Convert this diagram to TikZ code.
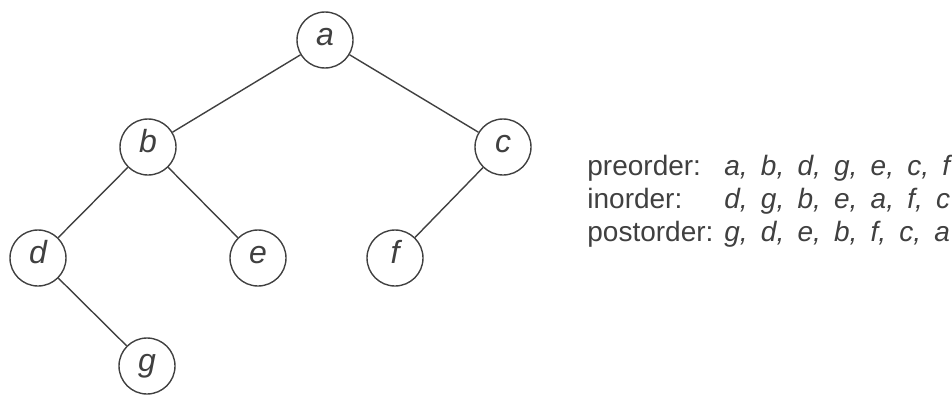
\documentclass[tikz,border=0pt]{standalone}
\usepackage{fontspec}
\setmainfont{Liberation Sans}
\newfontfamily\seqfont[WordSpace=1.7]{Liberation Sans}

\begin{document}
\begin{tikzpicture}[x=0.5pt, y=-0.5pt,
  vert/.style={draw=black!75, circle, minimum size=28pt, inner sep=0pt,
               line width=0.7pt, text=black!75, text height=0.72em, text depth=0.2em,
               font=\fontsize{16}{19}\selectfont\itshape},
  link/.style={draw=black!75, line width=0.7pt},
  order/.style={anchor=base west, inner sep=0pt, text=black!75, font=\fontsize{14}{17}\selectfont},
  seq/.style={order, font=\fontsize{14}{17}\seqfont\itshape},
]
  \useasboundingbox (0,0) rectangle (952,396);
  % the tree
  \node[vert] (a) at (325,40) {a};
  \node[vert] (b) at (148,147) {b};
  \node[vert] (c) at (503,147) {c};
  \node[vert] (d) at (38,258) {d};
  \node[vert] (e) at (258,258) {e};
  \node[vert] (f) at (395,258) {f};
  \node[vert] (g) at (147,366) {g};
  \draw[link] (a) -- (b); \draw[link] (a) -- (c);
  \draw[link] (b) -- (d); \draw[link] (b) -- (e);
  \draw[link] (c) -- (f); \draw[link] (d) -- (g);
  % traversals
  \node[order] (pre) at (587,175) {preorder:};
  \node[order] (in) at (587,208) {inorder:};
  \node[order] (post) at (587,241) {postorder:};
  \node[seq] (preseq) at (724,175) {a, b, d, g, e, c, f};
  \node[seq] (inseq) at (724,208) {d, g, b, e, a, f, c};
  \node[seq] (postseq) at (724,241) {g, d, e, b, f, c, a};
\end{tikzpicture}
\end{document}
